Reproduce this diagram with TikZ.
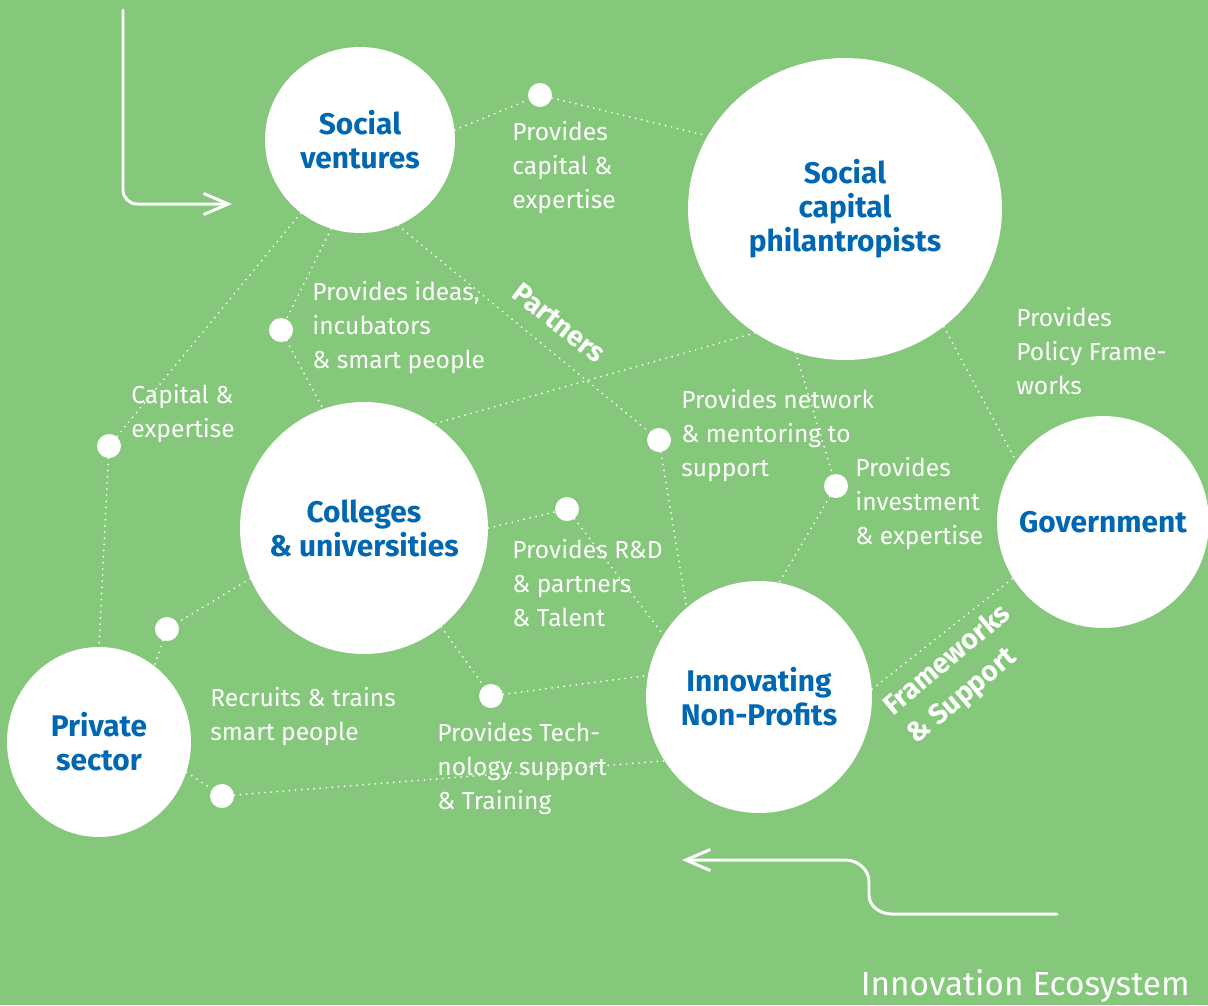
\documentclass[tikz,border=0pt]{standalone}
\usepackage{fontspec}
\setmainfont{Fira Sans}
\usetikzlibrary{shapes.geometric,arrows.meta}
\definecolor{ecogreen}{RGB}{133,199,123}
\definecolor{ecoblue}{RGB}{0,103,178}

\begin{document}
\begin{tikzpicture}[x=0.02cm,y=-0.02cm,
            main node/.style={ellipse,fill=white,inner sep=-0.6cm,align=center,text=ecoblue,
                font=\fontsize{17}{19.3}\selectfont\bfseries},
            dot node/.style={circle,fill=white,inner sep=0pt,minimum size=0.48cm},
            link/.style={white,line width=1.1pt,line cap=round,dash pattern=on 0pt off 3.5pt},
            note/.style={anchor=north west,inner sep=0pt,align=left,text=white,
                font=\fontsize{14}{19.3}\selectfont},
            tag/.style={inner sep=0pt,align=left,text=white,font=\fontsize{16}{21}\selectfont\bfseries},
            flow/.style={white,line width=1.7pt,line cap=round,line join=round}]
    \fill[ecogreen] (0,0) rectangle (1208,1005);
    \useasboundingbox (0,0) rectangle (1208,1005);
            % Define actors
    \node[main node,minimum width=3.8cm,minimum height=3.72cm] (SV) at (360,140) {Social\\ventures};
    \node[main node,minimum width=6.28cm,minimum height=6.04cm] (SCP) at (845,209) {Social\\capital\\philantropists};
    \node[main node,minimum width=4.96cm,minimum height=5.04cm] (CU) at (364,528) {Colleges\\\& universities};
    \node[main node,minimum width=3.68cm,minimum height=3.8cm] (PS) at (99,742) {Private\\sector};
    \node[main node,minimum width=4.52cm,minimum height=4.64cm] (INP) at (759,697) {Innovating\\Non-Profits};
    \node[main node,minimum width=4.24cm,minimum height=4.24cm] (GOV) at (1103,522) {Government};
            % Define joints
    \node[dot node] (d1) at (540,95) {};
    \node[dot node] (d2) at (281,330) {};
    \node[dot node] (d3) at (109,446) {};
    \node[dot node] (d4) at (659,440) {};
    \node[dot node] (d5) at (836,486) {};
    \node[dot node] (d6) at (567,509) {};
    \node[dot node] (d7) at (167,629) {};
    \node[dot node] (d8) at (491,696) {};
    \node[dot node] (d9) at (222,796) {};
            % Links
    \draw[link] (SV.6) -- (d1) -- (SCP.152);
    \draw[link] (SV.-129) -- (d3) -- (PS.90);
    \draw[link] (SV.-108) -- (d2) -- (CU.109);
    \draw[link] (SV.-66) -- (d4) -- (INP.129);
    \draw[link] (SCP.-126) -- (CU.56);
    \draw[link] (SCP.-109) -- (d5) -- (INP.80);
    \draw[link] (SCP.-50) -- (GOV.145);
    \draw[link] (CU.0) -- (d6) -- (INP.147);
    \draw[link] (CU.-156) -- (d7) -- (PS.54);
    \draw[link] (CU.-52) -- (d8) -- (INP.169);
    \draw[link] (PS.-19) -- (d9) -- (INP.-146);
    \draw[link] (INP.4) -- (GOV.-148);
            % Notes
    \node[note] (n1) at (512,121) {Provides\\capital \&\\expertise};
    \node[note] (n2) at (312,281) {Provides ideas,\\incubators\\\& smart people};
    \node[note] (n3) at (131,384) {Capital \&\\expertise};
    \node[note] (n4) at (681,389) {Provides network\\\& mentoring to\\support};
    \node[note] (n5) at (855,457) {Provides\\investment\\\& expertise};
    \node[note] (n6) at (1016,307) {Provides\\Policy Frame-\\works};
    \node[note] (n7) at (512,539) {Provides R\&D\\\& partners\\\& Talent};
    \node[note] (n8) at (210,687) {Recruits \& trains\\smart people};
    \node[note] (n9) at (437,722) {Provides Tech-\\nology support\\\& Training};
    \node[tag,rotate=-38] (partners) at (559,323) {Partners};
    \node[tag,rotate=40,anchor=north west] (frameworks) at (879,700) {Frameworks\\\& Support};
    \node[anchor=base east,inner sep=0pt,text=white,font=\fontsize{19}{23}\selectfont] (title) at (1190,995) {Innovation Ecosystem};
            % Flow arrows
    \coordinate (in start) at (123,10);
    \coordinate (in end) at (232,204);
    \coordinate (out start) at (1057,914);
    \coordinate (out end) at (682,860);
    \draw[flow,rounded corners=8pt,-{Straight Barb[length=14pt,width=12pt]}] (in start) |- (in end);
    \draw[flow,-{Straight Barb[length=14pt,width=12pt]}] (out start) -- (892,914) to[out=180,in=-90] (869,895)
        -- (869,882) to[out=90,in=0] (845,860) -- (out end);
\end{tikzpicture}
\end{document}
